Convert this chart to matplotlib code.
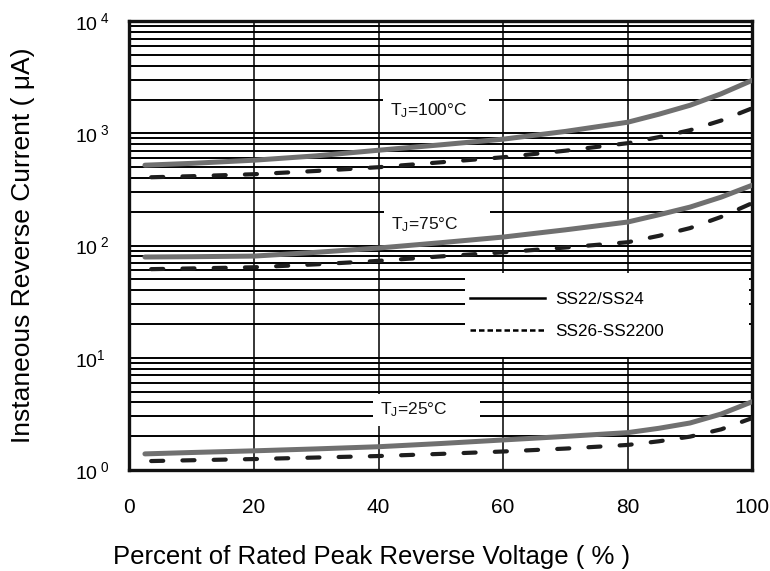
import matplotlib
matplotlib.use('Agg')
import matplotlib.pyplot as plt
from matplotlib.patches import Rectangle
from matplotlib.lines import Line2D

plt.rcParams['font.family'] = ['Liberation Sans', 'DejaVu Sans']
plt.rcParams['mathtext.fontset'] = 'custom'
plt.rcParams['mathtext.rm'] = 'Liberation Sans'
plt.rcParams['mathtext.it'] = 'Liberation Sans'
plt.rcParams['mathtext.default'] = 'regular'

# Percent of rated peak reverse voltage
x_solid = [2.5, 10, 20, 30, 40, 50, 60, 70, 80, 85, 90, 95, 100]
x_dash = [3.5, 10, 20, 30, 40, 50, 60, 70, 80, 85, 90, 95, 100]

# Reverse current (uA), SS22/SS24 (solid)
tj100_solid = [520, 540, 576, 630, 707, 790, 887, 1040, 1256, 1480, 1778, 2250, 2971]
tj75_solid = [79, 79.5, 80.5, 87, 95, 106, 119, 138, 162, 188, 220, 270, 345]
tj25_solid = [1.39, 1.43, 1.48, 1.54, 1.61, 1.72, 1.85, 1.99, 2.15, 2.35, 2.62, 3.15, 4.06]

# SS26-SS2200 (dashed)
tj100_dash = [406, 415, 432, 462, 499, 552, 612, 700, 817, 925, 1066, 1300, 1674]
tj75_dash = [61.6, 62.5, 64, 68, 73, 80, 87, 96, 107, 122, 143, 180, 239]
tj25_dash = [1.20, 1.22, 1.25, 1.29, 1.33, 1.39, 1.46, 1.55, 1.67, 1.80, 1.98, 2.30, 2.90]

x_ticks = [0, 20, 40, 60, 80, 100]
y_ticks = [1, 10, 100, 1000, 10000]
y_tick_labels = [r'10$^{\ 0}$', r'10$^{1}$', r'10$^{\ 2}$', r'10$^{\ 3}$', r'10$^{\ 4}$']

temp_labels = [r'T$_J$=100°C    ', r'T$_J$=75°C      ', r'T$_J$=25°C      ']
temp_x = [41.8, 42.0, 40.3]
temp_y = [1607, 152, 3.42]

solid_color = '#707070'
dash_color = '#1e1e1e'

fig = plt.figure(figsize=(7.7, 5.71), dpi=100)
ax = fig.add_axes([0.168, 0.177, 0.809, 0.786])

ax.set_yscale('log')
ax.set_xlim(0, 100)
ax.set_ylim(1, 10000)

# grid
ax.set_axisbelow(True)
ax.grid(True, which='both', axis='y', color='black', lw=1.4)
ax.grid(True, which='major', axis='x', color='black', lw=1.1)

# curves
for ys in [tj100_solid, tj75_solid, tj25_solid]:
    ax.plot(x_solid, ys, color=solid_color, lw=3.6, solid_capstyle='round', zorder=3)
for ys in [tj100_dash, tj75_dash, tj25_dash]:
    ax.plot(x_dash, ys, color=dash_color, lw=3.0, dashes=(2.9, 4.6),
            dash_capstyle='round', zorder=3)

# temperature labels (white boxes sit under the curves)
for t, tx, ty in zip(temp_labels, temp_x, temp_y):
    ax.text(tx, ty, t, fontsize=12.5, ha='left', va='center', color='#111111', zorder=2.5,
            bbox=dict(facecolor='white', edgecolor='none', pad=5))

# legend box
ax.add_patch(Rectangle((0.539, 0.252), 0.455, 0.187, transform=ax.transAxes,
                       facecolor='white', edgecolor='none', zorder=1.5))
handles = [Line2D([], [], color='black', lw=1.8),
           Line2D([], [], color='black', lw=1.8, dashes=(2.2, 1.2))]
leg = ax.legend(handles, ['SS22/SS24', 'SS26-SS2200'], loc='center left',
                bbox_to_anchor=(0.547, 0.345), frameon=False, fontsize=12.3,
                borderpad=0, borderaxespad=0,
                handlelength=4.4, handletextpad=0.6, labelspacing=1.0)

# ticks
ax.set_xticks(x_ticks)
ax.set_xticklabels([str(v) for v in x_ticks])
ax.set_yticks(y_ticks)
ax.set_yticklabels(y_tick_labels)
ax.yaxis.set_minor_formatter(plt.NullFormatter())
ax.tick_params(axis='both', which='both', length=0)
ax.tick_params(axis='x', labelsize=15, pad=20)
ax.tick_params(axis='y', labelsize=14, pad=39)
for lab in ax.get_yticklabels():
    lab.set_ha('left')

for sp in ax.spines.values():
    sp.set_linewidth(2.4)
    sp.set_color('#111111')

ax.set_xlabel('Percent of Rated Peak Reverse Voltage ( % )', fontsize=18.5)
ax.xaxis.set_label_coords(0.389, -0.168)
ax.set_ylabel('Instaneous Reverse Current ( μA)', fontsize=19)
ax.yaxis.set_label_coords(-0.151, 0.501)

fig.savefig('out.png', dpi=100, facecolor='white')
